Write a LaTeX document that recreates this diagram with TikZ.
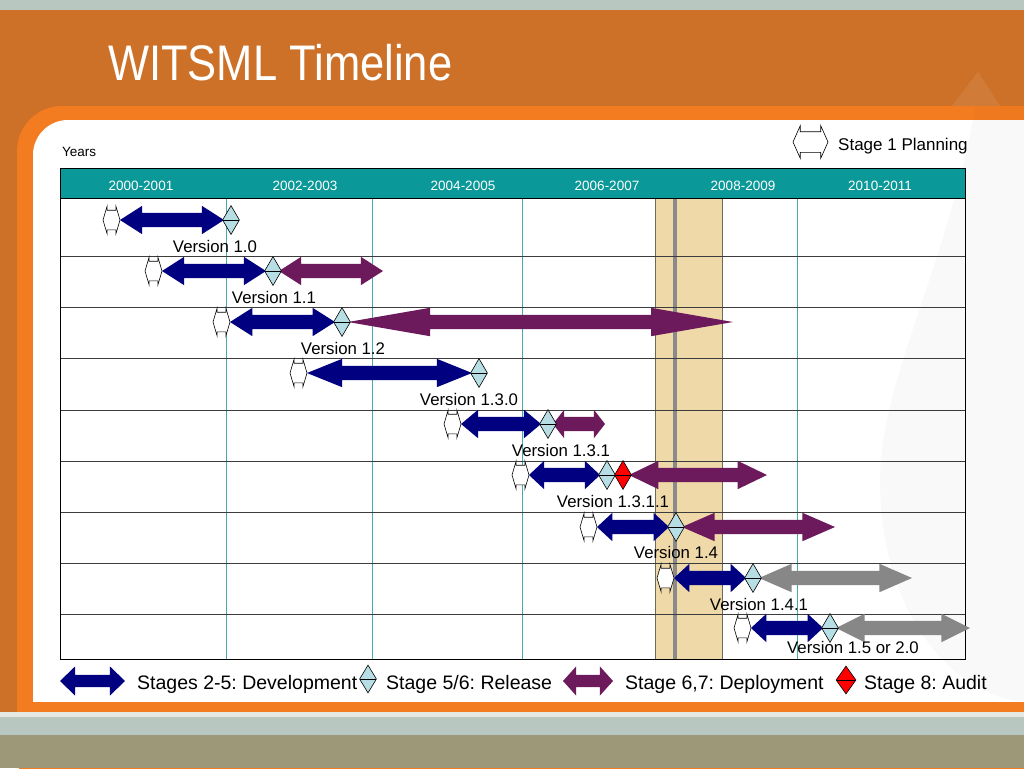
\documentclass[tikz,border=0pt]{standalone}
\usepackage{graphicx}
\usepackage{fontspec}
\setmainfont{Liberation Sans}
\usetikzlibrary{shapes.arrows,shapes.geometric}
\frenchspacing

\definecolor{topgrey}{HTML}{B8C8C1}
\definecolor{bandorange}{HTML}{CD7128}
\definecolor{frameorange}{HTML}{F47C20}
\definecolor{paleline}{HTML}{E4E9E3}
\definecolor{olive}{HTML}{9C9878}
\definecolor{headteal}{HTML}{0B9898}
\definecolor{gridteal}{HTML}{48AAAA}
\definecolor{bandtan}{HTML}{F0D9A9}
\definecolor{bandedge}{HTML}{6E6A55}
\definecolor{bandgrey}{HTML}{8A8A8A}
\definecolor{rowline}{HTML}{3C3C3C}
\definecolor{devblue}{HTML}{000080}
\definecolor{deppurple}{HTML}{6C1A5C}
\definecolor{futuregrey}{HTML}{878787}
\definecolor{relblue}{HTML}{B7DEE4}

\begin{document}
\begin{tikzpicture}[x=1pt,y=-1pt,
    bar/.style={double arrow,draw=none,inner xsep=0pt,inner ysep=7pt,
        double arrow head extend=7pt,minimum width=28pt,
        text height=0pt,text depth=0pt},
    planbox/.style={double arrow,draw,fill=white,line width=0.6pt,
        inner xsep=0pt,inner ysep=9.5pt,double arrow head extend=4pt,
        double arrow tip angle=147,minimum width=27pt,minimum height=17pt,
        text height=0pt,text depth=0pt},
    release/.style={diamond,draw,line width=0.6pt,fill=relblue,inner sep=0pt,
        minimum width=17pt,minimum height=29pt,
        path picture={\draw[line width=0.6pt] (path picture bounding box.west)
            -- (path picture bounding box.east);}},
    audit/.style={release,fill=red},
    version/.style={anchor=base,inner sep=0pt,font=\fontsize{16.8}{20}\selectfont},
    yearlabel/.style={anchor=base,inner sep=0pt,text=white,font=\fontsize{13.5}{16}\selectfont},
    legend/.style={anchor=base west,inner sep=0pt,font=\fontsize{19.5}{23}\selectfont}]

\useasboundingbox (0,0) rectangle (1024,768);
\clip (0,0) rectangle (1024,768);

% slide background

\fill[bandorange] (0,0) rectangle (1024,768);
\fill[topgrey] (0,0) rectangle (1024,10);
\fill[white,opacity=0.08] (978,72) -- (1000,106) -- (952,106) -- cycle;
\fill[frameorange,rounded corners=45pt] (17,106) rectangle (1100,800);
\fill[white,rounded corners=35pt] (33,120) rectangle (1100,760);
\fill[black,opacity=0.025] (975,106) .. controls (950,260) and (880,380) .. (880,480)
    .. controls (880,620) and (960,702) .. (1030,702) -- (1030,106) -- cycle;
\fill[frameorange] (17,702) rectangle (1024,712);
\fill[paleline] (0,712) rectangle (1024,717);
\fill[topgrey] (0,717) rectangle (1024,735);
\fill[olive] (0,735) rectangle (1024,768);

\node (title) at (108,80) [anchor=base west,inner sep=0pt,text=white,
    font=\fontsize{50}{60}\selectfont] {\scalebox{0.87}[1]{WITSML Timeline}};

% table

\foreach \x in {226,372,522,655,797}
    \draw[gridteal] (\x,198) -- (\x,659);

\draw[bandedge,fill=bandtan,line width=0.8pt] (655,198) rectangle (722,659);
\draw[bandgrey,line width=3.5pt] (675,198) -- (675,659);

\foreach \y in {256,307,358,410,461,512,563,614}
    \draw[rowline,line width=0.8pt] (60,\y) -- (965,\y);

\fill[headteal] (60,168) rectangle (965,198);
\draw (60,198) -- (965,198);
\draw (60,168) rectangle (965,659);

\foreach \x/\a/\b in {141/2000/2001,305/2002/2003,463/2004/2005,
                      607/2006/2007,743/2008/2009,880/2010/2011}
    \node (yr\a) at (\x,190) [yearlabel] {\a-\b};

\node (years) at (62,156) [anchor=base west,inner sep=0pt,
    font=\fontsize{13.5}{16}\selectfont] {Years};

% deployment stages

\foreach \n/\y/\col/\xs/\xe in {2/271/deppurple/279/383,
                                3/322/deppurple/348/733,
                                5/424/deppurple/553/605,
                                6/475/deppurple/629/767,
                                7/527/deppurple/682/835,
                                8/578/futuregrey/759/912,
                                9/628/futuregrey/836/970}
{
    \pgfmathsetmacro\len{\xe-\xs}
    \pgfmathsetmacro\tip{2*atan(14/(0.21*\len))}
    \node (dep\n) at ({(\xs+\xe)/2},\y) [bar,fill=\col,minimum height=\len,
        double arrow tip angle=\tip] {};
}

% versions: planning, development, release

\foreach \n/\y/\pl/\br/\lx/\lb/\ver in {1/220/103/224/215/252/1.0,
                                        2/271/145/266/274/303/1.1,
                                        3/322/213/335/343/354/1.2,
                                        4/373/290/472/469/405/1.3.0,
                                        5/424/444/541/561/456/1.3.1,
                                        6/475/512/600/613/507/1.3.1.1,
                                        7/527/580/669/676/558/1.4,
                                        8/578/657/746/759/610/1.4.1,
                                        9/628/734/823/853/653/1.5 or 2.0}
{
    \pgfmathsetmacro\len{\br-\pl-17}
    \pgfmathsetmacro\tip{2*atan(14/(0.21*\len))}
    \node (plan\n) at ({\pl+8.5},\y) [planbox] {};
    \node (dev\n) at ({(\pl+17+\br)/2},\y) [bar,fill=devblue,minimum height=\len,
        double arrow tip angle=\tip] {};
    \node (rel\n) at ({\br+7},\y) [release] {};
    \node (ver\n) at (\lx,\lb) [version] {Version \ver};
}

\node (aud6) at (623,475) [audit] {};

% legend

\node (legplan) at (810.5,142) [planbox,inner ysep=10pt,double arrow head extend=6pt,
    minimum width=32pt,minimum height=35pt,double arrow tip angle=132] {};
\node (legplantext) at (838,150) [anchor=base west,inner sep=0pt,
    font=\fontsize{17}{20}\selectfont] {Stage 1 Planning};

\node (legdev) at (92.5,681) [bar,fill=devblue,inner ysep=6pt,double arrow head extend=8.5pt,
    minimum width=29pt,minimum height=65pt,double arrow tip angle=88] {};
\node (legdevtext) at (137,689) [legend] {Stages 2-5: Development};

\node (legrel) at (368,679) [release,minimum height=28pt] {};
\node (legreltext) at (386,689) [legend] {Stage 5/6: Release};

\node (legdep) at (588,681) [bar,fill=deppurple,inner ysep=6pt,double arrow head extend=8.5pt,
    minimum width=29pt,minimum height=50pt,double arrow tip angle=96] {};
\node (legdeptext) at (625,689) [legend] {Stage 6,7: Deployment};

\node (legaud) at (846,680) [audit,minimum width=20pt,minimum height=28pt] {};
\node (legaudtext) at (864,689) [legend] {Stage 8: Audit};

\end{tikzpicture}
\end{document}
